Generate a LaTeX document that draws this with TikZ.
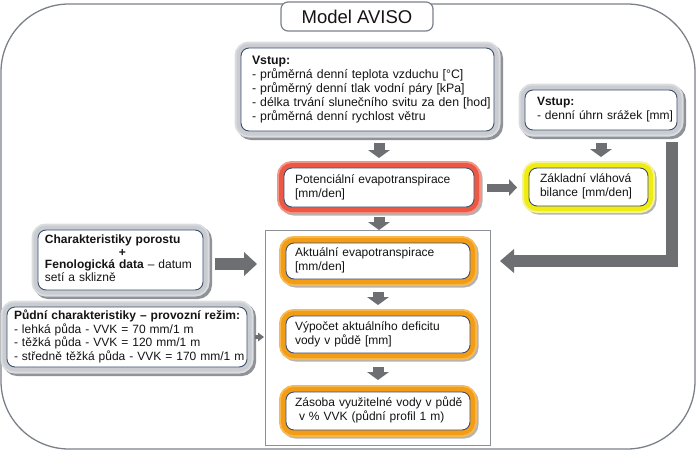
\documentclass[tikz,border=0pt]{standalone}
\usepackage{fontspec}
\setmainfont{Liberation Sans}
\usetikzlibrary{arrows.meta,calc,shadows}
\definecolor{framec}{HTML}{7B8089}
\definecolor{innerc}{HTML}{3E4F6E}
\definecolor{arrc}{HTML}{6D6F73}
\definecolor{bandg}{HTML}{C9CCD1}
\definecolor{bandgl}{HTML}{DADCE0}
\definecolor{shadg}{HTML}{8F9296}
\definecolor{redc}{HTML}{EC5844}
\definecolor{redl}{HTML}{F29585}
\definecolor{orc}{HTML}{F39C16}
\definecolor{orl}{HTML}{F6B850}
\definecolor{yelc}{HTML}{F0EC12}
\definecolor{yell}{HTML}{F5F39A}
\definecolor{colc}{HTML}{8C9198}
\definecolor{txtc}{HTML}{141414}
\newcommand\mylines[1]{\begin{tabular}{@{}l@{}}#1\end{tabular}}
\begin{document}
\begin{tikzpicture}[x=1pt,y=-1pt,
  every node/.style={outer sep=0pt},
  txt/.style={font=\fontsize{12}{13.6}\selectfont, text=txtc},
  inbox/.style={txt, draw=innerc, line width=0.9pt, fill=white, rounded corners=8pt,
    anchor=north west, align=left, inner ysep=0pt},
  gband/.style={general shadow={draw=shadg, line width=13pt, shadow xshift=2.5pt, shadow yshift=-2.5pt},
    preaction={draw=bandgl, line width=13pt}, preaction={draw=bandg, line width=9pt}},
  cband/.style 2 args={general shadow={draw=shadg!70, line width=13pt, shadow xshift=2pt, shadow yshift=-2pt},
    preaction={draw=#2, line width=14pt}, preaction={draw=#1, line width=10pt}},
  arr/.style={draw=arrc, line width=11pt, -{Triangle[width=22pt,length=8pt,line width=0pt]}},
  arrm/.style={draw=arrc, line width=8pt, -{Triangle[width=17pt,length=8pt,line width=0pt]}},
  arrL/.style={draw=arrc, line width=12pt, line join=miter, -{Triangle[width=24pt,length=14pt,line width=0pt]}},
  arrB/.style={draw=arrc, line width=12pt, -{Triangle[width=24pt,length=13pt,line width=0pt]}},
  arrS/.style={draw=arrc, line width=4pt, -{Triangle[width=9pt,length=6pt,line width=0pt]}}
]
\useasboundingbox (0,0) rectangle (697,451);

% outer frame and title
\node[draw=framec, line width=1.3pt, rounded corners=68pt, minimum width=694pt,
  minimum height=445pt, anchor=north west, inner sep=0pt] (outer) at (1,4) {};
\node[draw=framec, line width=1.2pt, fill=white, rounded corners=7pt, minimum width=152pt,
  minimum height=29pt, font=\fontsize{18.5}{20}\selectfont, text=txtc, inner sep=0pt]
  (title) at (357,16.5) {Model AVISO};

% column frame
\node[draw=colc, line width=0.8pt, minimum width=225pt, minimum height=215pt,
  anchor=north west, inner sep=0pt] (col) at (265,230) {};

% inputs
\node[inbox, gband, minimum width=253pt, minimum height=83pt, inner xsep=11pt, text width=231pt,
  font=\fontsize{12.3}{13.7}\selectfont]
  (in1) at (241,48) {\mylines{\textbf{Vstup:}\\
  - průměrná denní teplota vzduchu [°C]\\
  - průměrný denní tlak vodní páry [kPa]\\
  - délka trvání slunečního svitu za den [hod]\\
  - průměrná denní rychlost větru}};
\node[inbox, gband, minimum width=152pt, minimum height=40pt, inner xsep=12pt, text width=128pt]
  (in2) at (525,90) {\mylines{\textbf{Vstup:}\\- denní úhrn srážek [mm]}};

% process boxes
\node[inbox, cband={redc}{redl}, minimum width=190pt, minimum height=39pt, inner xsep=11pt, text width=168pt]
  (pot) at (284,168) {\mylines{Potenciální evapotranspirace\\{}[mm/den]}};
\node[inbox, cband={yelc}{yell}, minimum width=119pt, minimum height=38pt, inner xsep=11pt, text width=97pt]
  (zak) at (529,168) {\mylines{Základní vláhová\\bilance [mm/den]}};
\node[inbox, cband={orc}{orl}, minimum width=184pt, minimum height=36pt, inner xsep=9pt, text width=166pt]
  (akt) at (286,243) {\mylines{Aktuální evapotranspirace\\{}[mm/den]}};
\node[inbox, cband={orc}{orl}, minimum width=184pt, minimum height=37pt, inner xsep=9pt, text width=166pt]
  (vyp) at (286,316) {\mylines{Výpočet aktuálního deficitu\\vody v půdě [mm]}};
\node[inbox, cband={orc}{orl}, minimum width=184pt, minimum height=38pt, inner xsep=9pt, text width=166pt]
  (zas) at (286,392) {\mylines{Zásoba využitelné vody v půdě\\{}\ v \% VVK (půdní profil 1 m)}};

% left inputs
\node[inbox, gband, minimum width=165pt, minimum height=60pt, inner xsep=7pt, text width=151pt,
  font=\fontsize{12}{12.8}\selectfont]
  (char) at (38,230) {\mylines{\textbf{Charakteristiky porostu}\\
  \hspace*{74pt}\textbf{+}\\
  \textbf{Fenologická data} – datum\\
  setí a sklizně}};
\node[inbox, gband, minimum width=240pt, minimum height=60pt, inner xsep=7pt, text width=226pt,
  font=\fontsize{12}{13.2}\selectfont]
  (pud) at (7,307) {\mylines{\textbf{Půdní charakteristiky – provozní režim:}\\
  - lehká půda - VVK = 70 mm/1 m\\
  - těžká půda - VVK = 120 mm/1 m\\
  - středně těžká půda - VVK = 170 mm/1 m}};

% connectors
\draw[arr, shorten <=12pt, shorten >=10pt] (pot.north |- in1.south) -- (pot.north);
\draw[arr, shorten <=10pt, shorten >=13pt] (pot.south) -- (pot.south |- akt.north);
\draw[arr, shorten <=13pt, shorten >=11pt] (akt.south) -- (akt.south |- vyp.north);
\draw[arr, shorten <=14pt, shorten >=12pt] (vyp.south) -- (vyp.south |- zas.north);
\draw[arrm, shorten <=13pt, shorten >=12pt] (pot.east) -- (pot.east -| zak.west);
\draw[arr, shorten <=13pt, shorten >=11pt] (in2.south) -- (in2.south |- zak.north);
\coordinate (Lstart) at ($(in2.south east)+(-5,0)$);
\draw[arrL, shorten <=12pt, shorten >=10pt] (Lstart) |- (col.east |- akt.east);
\draw[arrB, shorten <=12pt, shorten >=8pt] ([yshift=-4pt]char.east) -- ([yshift=-4pt]char.east -| col.west);
\draw[arrS, shorten <=8pt, shorten >=1pt] (pud.east) -- (pud.east -| col.west);
\end{tikzpicture}
\end{document}
